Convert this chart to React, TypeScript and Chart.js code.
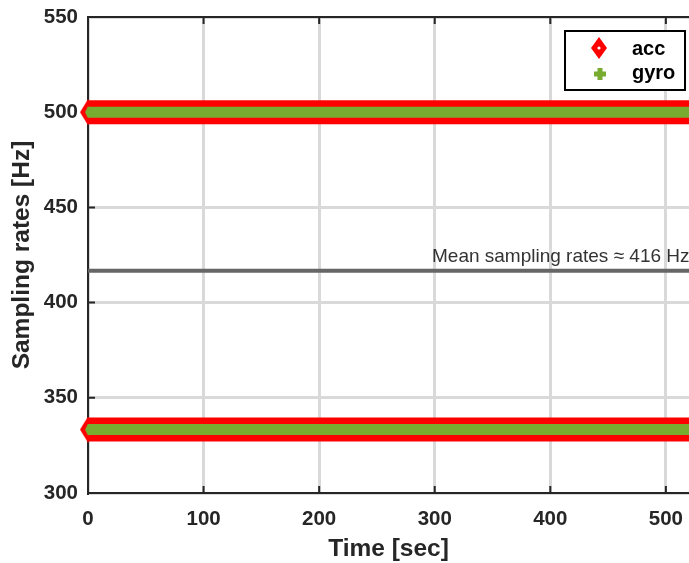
import React, { useEffect, useRef } from "react";
import { Chart, registerables } from "chart.js";

Chart.register(...registerables);

// ---- data ----
const timeSpan = [0, 520];
const accLevels = [500, 333.33];
const gyroLevels = [500, 333.33];
const meanRate = 416.67;
const meanLabel = "Mean sampling rates \u2248 416 Hz";
const xTickValues = [0, 100, 200, 300, 400, 500];
const yTickValues = [300, 350, 400, 450, 500, 550];
const legendLabels = ["acc", "gyro"];
const xTitle = "Time [sec]";
const yTitle = "Sampling rates [Hz]";

const FONT = "'Liberation Sans', Arial, Helvetica, sans-serif";
const RED = "#ff0000";
const GREEN = "#77ac30";
const AXIS = "#262626";

function diamondImage(hw: number, hh: number, color: string, dot: boolean) {
  const c = document.createElement("canvas");
  c.width = hw * 2;
  c.height = hh * 2;
  const g = c.getContext("2d")!;
  g.fillStyle = color;
  g.beginPath();
  g.moveTo(hw, 0);
  g.lineTo(hw * 2, hh);
  g.lineTo(hw, hh * 2);
  g.lineTo(0, hh);
  g.closePath();
  g.fill();
  if (dot) {
    g.fillStyle = "#ffffff";
    g.beginPath();
    g.arc(hw, hh, 1.6, 0, Math.PI * 2);
    g.fill();
  }
  return c;
}

function drawPlus(ctx: CanvasRenderingContext2D, x: number, y: number, arm: number, th: number, color: string) {
  ctx.fillStyle = color;
  ctx.fillRect(x - arm, y - th / 2, arm * 2, th);
  ctx.fillRect(x - th / 2, y - arm, th, arm * 2);
}

const decorPlugin = {
  id: "decor",
  beforeDatasetsDraw(chart: any) {
    const { ctx, chartArea: a, scales } = chart;
    ctx.save();
    // top border
    ctx.strokeStyle = AXIS;
    ctx.lineWidth = 2;
    ctx.beginPath();
    ctx.moveTo(a.left - 1, a.top);
    ctx.lineTo(a.right, a.top);
    ctx.stroke();
    // inward tick stubs
    ctx.beginPath();
    for (const v of xTickValues) {
      const px = scales.x.getPixelForValue(v);
      ctx.moveTo(px, a.top);
      ctx.lineTo(px, a.top + 7);
      ctx.moveTo(px, a.bottom);
      ctx.lineTo(px, a.bottom - 7);
    }
    for (const v of yTickValues) {
      const py = scales.y.getPixelForValue(v);
      ctx.moveTo(a.left, py);
      ctx.lineTo(a.left + 7, py);
    }
    ctx.stroke();
    ctx.restore();
  },
  afterDraw(chart: any) {
    const { ctx, chartArea: a, scales } = chart;
    ctx.save();
    // mean label
    const my = scales.y.getPixelForValue(meanRate);
    ctx.font = `19px ${FONT}`;
    ctx.fillStyle = "#333333";
    ctx.textAlign = "left";
    ctx.textBaseline = "alphabetic";
    ctx.fillText(meanLabel, 432, my - 9);

    // legend
    const bx = a.right - 124;
    const by = a.top + 14;
    ctx.fillStyle = "#ffffff";
    ctx.fillRect(bx, by, 120, 59);
    ctx.strokeStyle = "#000000";
    ctx.lineWidth = 2;
    ctx.strokeRect(bx, by, 120, 59);
    const img = diamondImage(8, 11, RED, true);
    ctx.drawImage(img, bx + 34 - 8, by + 17 - 11);
    drawPlus(ctx, bx + 35, by + 43, 6, 5, GREEN);
    ctx.fillStyle = "#000000";
    ctx.font = `bold 20px ${FONT}`;
    ctx.textBaseline = "middle";
    ctx.fillText(legendLabels[0], bx + 67, by + 18);
    ctx.fillText(legendLabels[1], bx + 67, by + 42);
    ctx.restore();
  },
};

export default function App() {
  const ref = useRef<HTMLCanvasElement>(null);

  useEffect(() => {
    const canvas = ref.current;
    if (!canvas) return;
    const redTip = diamondImage(8, 13, RED, false);
    const greenTip = diamondImage(3, 6, GREEN, false);

    const band = (level: number, color: string, width: number, tip: any, order: number) => ({
      data: timeSpan.map((t) => ({ x: t, y: level })),
      borderColor: color,
      backgroundColor: color,
      borderWidth: width,
      pointStyle: tip,
      pointRadius: [10, 0],
      pointBorderWidth: 0,
      borderCapStyle: "butt",
      clip: false,
      order,
    });

    const datasets: any[] = [
      ...accLevels.map((l) => ({ label: legendLabels[0], ...band(l, RED, 24, redTip, 3) })),
      ...gyroLevels.map((l) => ({ label: legendLabels[1], ...band(l, GREEN, 11, greenTip, 2) })),
      {
        label: "mean",
        data: timeSpan.map((t) => ({ x: t, y: meanRate })),
        borderColor: "#666666",
        borderWidth: 4,
        pointRadius: 0,
        clip: false,
        order: 1,
      },
    ];

    const tickFont = { family: FONT, size: 20.5, weight: "bold" as const };
    const titleFont = { family: FONT, size: 24.5, weight: "bold" as const };
    const noPad = (s: any) => {
      s.paddingLeft = 0;
      s.paddingRight = 0;
      s.paddingTop = 0;
      s.paddingBottom = 0;
    };

    const chart = new Chart(canvas, {
      type: "line",
      data: { datasets },
      options: {
        animation: false,
        responsive: true,
        maintainAspectRatio: false,
        events: [],
        layout: { autoPadding: false, padding: { top: 17, right: 0, left: 0, bottom: 0 } },
        plugins: { legend: { display: false }, tooltip: { enabled: false } },
        scales: {
          x: {
            type: "linear",
            min: 0,
            max: 520,
            afterBuildTicks: (s: any) => {
              s.ticks = xTickValues.map((v) => ({ value: v }));
            },
            afterFit: (s: any) => {
              s.height = 70;
              noPad(s);
            },
            ticks: { font: tickFont, color: AXIS, padding: 14, maxRotation: 0 },
            grid: { color: "#d9d9d9", lineWidth: 3, drawTicks: false },
            border: { color: AXIS, width: 2 },
            title: { display: true, text: xTitle, font: titleFont, color: AXIS, padding: { top: 0, bottom: -1 } },
          },
          y: {
            type: "linear",
            min: 300,
            max: 550,
            afterBuildTicks: (s: any) => {
              s.ticks = yTickValues.map((v) => ({ value: v }));
            },
            afterFit: (s: any) => {
              s.width = 88;
              noPad(s);
            },
            ticks: { font: tickFont, color: AXIS, padding: 10 },
            grid: { color: "#d9d9d9", lineWidth: 3, drawTicks: false },
            border: { color: AXIS, width: 2 },
            title: { display: true, text: yTitle, font: titleFont, color: AXIS, padding: { top: 8, bottom: 0 } },
          },
        },
      },
      plugins: [decorPlugin],
    });
    return () => chart.destroy();
  }, []);

  return (
    <div style={{ position: "absolute", left: 0, top: 0, width: 689, height: 563, background: "#fff" }}>
      <canvas ref={ref} />
    </div>
  );
}
